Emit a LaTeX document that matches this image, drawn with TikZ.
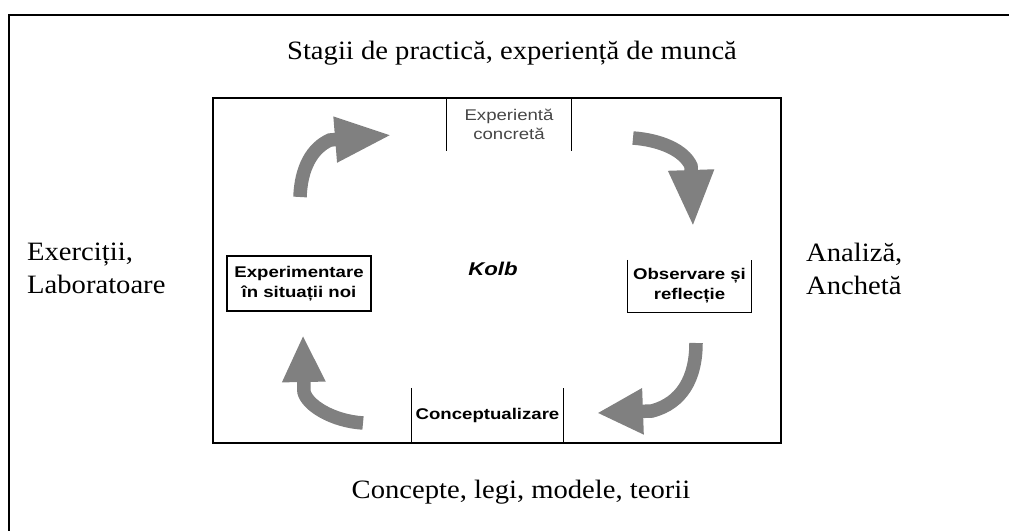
\documentclass[tikz,border=0pt]{standalone}
\usepackage{fontspec}
\setmainfont{Liberation Serif}
\newfontfamily\outerfont[FakeStretch=1.08]{Liberation Serif}
\newfontfamily\innerfont[FakeStretch=1.2]{Liberation Sans}
\usetikzlibrary{arrows.meta}
\definecolor{arrowgray}{RGB}{128,128,128}
\definecolor{textgray}{RGB}{70,70,70}
\begin{document}
\begin{tikzpicture}[x=1pt,y=-1pt,
  outertext/.style={font=\outerfont\fontsize{26.5}{33}\selectfont, inner sep=0pt},
  boxtext/.style={font=\innerfont\bfseries\fontsize{15.5}{20}\selectfont, inner sep=0pt, align=center},
  cyclearrow/.style={draw=arrowgray, line width=13.5pt},
  sidebox/.style={draw=black, line width=1.2pt}
]
\useasboundingbox (0,0) rectangle (1009,530);
% outer frame (open on the right and bottom)
\draw[line width=2pt] (8.5,531) -- (8.5,14.7) -- (1010,14.7);
% inner frame
\node[draw, line width=2.5pt, minimum width=568pt, minimum height=345pt, inner sep=0pt] (frame) at (497,270.5) {};

% outer labels
\node[outertext, anchor=base] (top) at (512,59) {Stagii de practică, experiență de muncă};
\node[outertext, anchor=base] (bottom) at (521,498) {Concepte, legi, modele, teorii};
\node[outertext, anchor=base west] (left) at (27,260) {\vtop{\hbox{Exerciții,}\hbox{Laboratoare}}};
\node[outertext, anchor=base west] (right) at (806,261) {\vtop{\hbox{Analiză,}\hbox{Anchetă}}};

% inner stage boxes
\node[boxtext, font=\innerfont\fontsize{15.5}{19}\selectfont, text=textgray, minimum width=124pt, minimum height=53pt] (conc) at (509,124.5) {Experientă\\concretă};
\draw[sidebox] (conc.north west) -- (conc.south west);
\draw[sidebox] (conc.north east) -- (conc.south east);

\node[boxtext, draw, line width=1.2pt, minimum width=144pt, minimum height=55pt] (expn) at (299,283.5) {Experimentare\\în situații noi};

\node[boxtext, minimum width=123pt, minimum height=52pt] (obs) at (689.5,286) {Observare și\\reflecție};
\draw[sidebox] (obs.north west) -- (obs.south west) -- (obs.south east) -- (obs.north east);

\node[boxtext, minimum width=151pt, minimum height=55pt] (concept) at (487.5,415.5) {Conceptualizare};
\draw[sidebox] (concept.north west) -- (concept.south west) -- (concept.south east) -- (concept.north east);

\node[font=\innerfont\bfseries\itshape\fontsize{18.5}{22}\selectfont, inner sep=0pt] (kolb) at (493,269) {Kolb};

% cycle arrows
\coordinate (a1s) at (300,197);
\coordinate (a1e) at (392,135);
\draw[cyclearrow, -{Triangle[length=57pt,width=42pt]}] (a1s) .. controls (301,168) and (312,148) .. (330,140) -- (a1e);

\coordinate (a2s) at (633,138);
\coordinate (a2e) at (693,227);
\draw[cyclearrow, -{Triangle[length=57pt,width=42pt]}] (a2s) .. controls (660,140) and (684,150) .. (691,166) -- (a2e);

\coordinate (a3s) at (696,343);
\coordinate (a3e) at (597,413);
\draw[cyclearrow, -{Triangle[length=46pt,width=43pt]}] (a3s) .. controls (696,378) and (682,403) .. (652,411) -- (a3e);

\coordinate (a4s) at (363,423);
\coordinate (a4e) at (303,335);
\draw[cyclearrow, -{Triangle[length=47pt,width=40pt]}] (a4s) .. controls (332,421) and (307,405) .. (304,392) -- (a4e);
\end{tikzpicture}
\end{document}
